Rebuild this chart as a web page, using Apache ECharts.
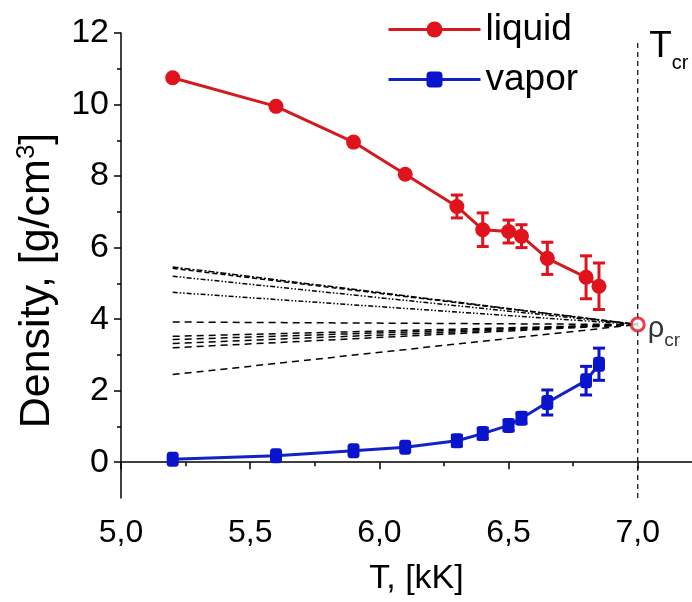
<!DOCTYPE html>
<html>
<head>
<meta charset="utf-8">
<script src="https://cdn.jsdelivr.net/npm/echarts@6/dist/echarts.min.js"></script>
<style>html,body{margin:0;padding:0;background:#fff}#c{width:692px;height:602px}</style>
</head>
<body>
<div id="c"></div>
<script>
// ---- data ----
const T = [5.2, 5.6, 5.9, 6.1, 6.3, 6.4, 6.5, 6.55, 6.65, 6.8, 6.85];
const liquid = [10.75, 9.95, 8.95, 8.05, 7.15, 6.5, 6.45, 6.32, 5.7, 5.17, 4.92];
const liquidErr = [0, 0, 0, 0, 0.32, 0.47, 0.32, 0.32, 0.45, 0.6, 0.65];
const vapor = [0.08, 0.18, 0.32, 0.42, 0.6, 0.8, 1.03, 1.23, 1.67, 2.28, 2.74];
const vaporErr = [0, 0, 0, 0, 0.15, 0.15, 0.15, 0.15, 0.35, 0.4, 0.45];
const Tcr = 7.0;
const rhoCr = 3.85;
const fanT0 = 5.2;
const fanStart = [5.46, 5.42, 5.2, 4.75, 3.92, 3.52, 3.43, 3.32, 3.2, 2.45];
const xTicks = [5.0, 5.5, 6.0, 6.5, 7.0];
const xMinor = [5.25, 5.75, 6.25, 6.75];
const yTicks = [0, 2, 4, 6, 8, 10, 12];
const yMinor = [1, 3, 5, 7, 9, 11];

// ---- styles ----
const fanDash = [[6,2,2,2],[5,3],[5,2,1.5,2,1.5,2],[5,2,1.5,2,1.5,2],[7,5],[7,5],[7,5],[7,5],[7,5],[7,5]];
const RED = '#e0121c', RED_L = '#d41a1f', BLUE = '#0a14cc', BLUE_L = '#1222c4';
const FONT = 'Liberation Sans';

function errSeries(vals, errs, color) {
  return {
    type: 'custom', z: 3, silent: true,
    data: T.map((t, i) => [t, vals[i], errs[i]]),
    renderItem: function (params, api) {
      const x = api.value(0), y = api.value(1), e = api.value(2);
      if (!e) return null;
      const top = api.coord([x, y + e]), bot = api.coord([x, y - e]);
      const w = 6;
      const st = { stroke: color, lineWidth: 3 };
      return { type: 'group', children: [
        { type: 'line', shape: { x1: top[0], y1: top[1], x2: bot[0], y2: bot[1] }, style: st },
        { type: 'line', shape: { x1: top[0]-w, y1: top[1], x2: top[0]+w, y2: top[1] }, style: st },
        { type: 'line', shape: { x1: bot[0]-w, y1: bot[1], x2: bot[0]+w, y2: bot[1] }, style: st }
      ]};
    }
  };
}

const fanSeries = fanStart.map((v, i) => ({
  type: 'line', symbol: 'none', silent: true, z: 1,
  data: [[fanT0, v], [Tcr, rhoCr]],
  lineStyle: { color: '#000', width: 1.5, type: fanDash[i] }
}));

const axisColor = { color: '#000', width: 1.5 };

const option = {
  animation: false,
  backgroundColor: '#fff',
  grid: { left: 121, right: 0, top: 33, bottom: 104, containLabel: false, outerBoundsMode: 'none' },
  legend: {
    data: ['liquid', 'vapor'], orient: 'vertical', left: 382, top: 6,
    itemWidth: 92, itemHeight: 20, itemGap: 13,
    lineStyle: { width: 3 },
    textStyle: { fontSize: 37, lineHeight: 36, fontFamily: FONT, color: '#000', padding: [0, 0, 0, 0] }
  },
  xAxis: [
    { type: 'value', min: 5, max: 7.21, interval: 0.5,
      axisLine: { show: true, lineStyle: axisColor },
      axisTick: { show: true, length: 7, lineStyle: axisColor, customValues: xTicks },
      splitLine: { show: false },
      axisLabel: { customValues: xTicks, fontSize: 32, fontFamily: FONT, color: '#000', margin: 19,
        formatter: v => v.toFixed(1).replace('.', ',') },
      name: 'T, [kK]', nameLocation: 'middle', nameGap: 64,
      nameTextStyle: { fontSize: 34, fontFamily: FONT, color: '#000', padding: [0, 0, 0, 20] } },
    { type: 'value', min: 5, max: 7.21, position: 'bottom', offset: 0,
      axisLine: { show: false }, splitLine: { show: false }, axisLabel: { show: false },
      axisTick: { show: true, length: 4, lineStyle: axisColor, customValues: xMinor } }
  ],
  yAxis: [
    { type: 'value', min: -1, max: 12, position: 'left',
      axisLine: { show: true, lineStyle: axisColor },
      axisTick: { show: true, length: 7, lineStyle: axisColor, customValues: yTicks },
      splitLine: { show: false },
      axisLabel: { customValues: yTicks, fontSize: 34, fontFamily: FONT, color: '#000', margin: 12 },
      name: 'Density, [g/cm{sup|3}]', nameLocation: 'middle', nameGap: 47, nameRotate: 90,
      nameTextStyle: { fontSize: 43, fontFamily: FONT, color: '#000', lineHeight: 46, padding: [0, 30, 0, 0],
        rich: { sup: { fontSize: 26, fontFamily: FONT, color: '#000', verticalAlign: 'top', lineHeight: 46 } } } },
    { type: 'value', min: -1, max: 12, position: 'left', offset: 0,
      axisLine: { show: false }, splitLine: { show: false }, axisLabel: { show: false },
      axisTick: { show: true, length: 4, lineStyle: axisColor, customValues: yMinor } }
  ],
  series: [
    ...fanSeries,
    { name: 'Tcr', type: 'line', symbol: 'circle', symbolSize: 1, silent: true, z: 1,
      itemStyle: { color: 'rgba(0,0,0,0)' },
      data: [[Tcr, -1], { value: [Tcr, 11.75],
        label: { show: true, position: 'right', distance: 11, offset: [0, 9], formatter: '{t|T}{s|cr}',
          rich: { t: { fontSize: 37, fontFamily: FONT, color: '#000', verticalAlign: 'top', lineHeight: 46 },
                  s: { fontSize: 20, fontFamily: FONT, color: '#000', verticalAlign: 'bottom', lineHeight: 46 } } } }],
      lineStyle: { color: '#000', width: 1.2, type: [5, 4] } },
    errSeries(liquid, liquidErr, RED),
    errSeries(vapor, vaporErr, BLUE),
    { name: 'liquid', type: 'line', z: 4, symbol: 'circle', symbolSize: 15,
      data: T.map((t, i) => [t, liquid[i]]),
      lineStyle: { color: RED_L, width: 3 }, itemStyle: { color: RED } },
    { name: 'vapor', type: 'line', z: 4, symbol: 'roundRect', symbolSize: [12, 15],
      data: T.map((t, i) => [t, vapor[i]]),
      lineStyle: { color: BLUE_L, width: 3 }, itemStyle: { color: BLUE } },
    { name: 'critical', type: 'scatter', z: 5, symbol: 'circle', symbolSize: 13,
      data: [[Tcr, rhoCr]],
      itemStyle: { color: '#fff', borderColor: RED, borderWidth: 3 },
      label: { show: true, position: 'right', distance: 0, offset: [2, 8], formatter: '{r|ρ}{s|cr}',
        rich: { r: { fontSize: 29, fontFamily: FONT, color: '#000', verticalAlign: 'top', lineHeight: 36 },
                s: { fontSize: 19, fontFamily: FONT, color: '#000', verticalAlign: 'bottom', lineHeight: 36 } } } }
  ]
};
const chart = echarts.init(document.getElementById('c'));
chart.setOption(option);
</script>
</body>
</html>
